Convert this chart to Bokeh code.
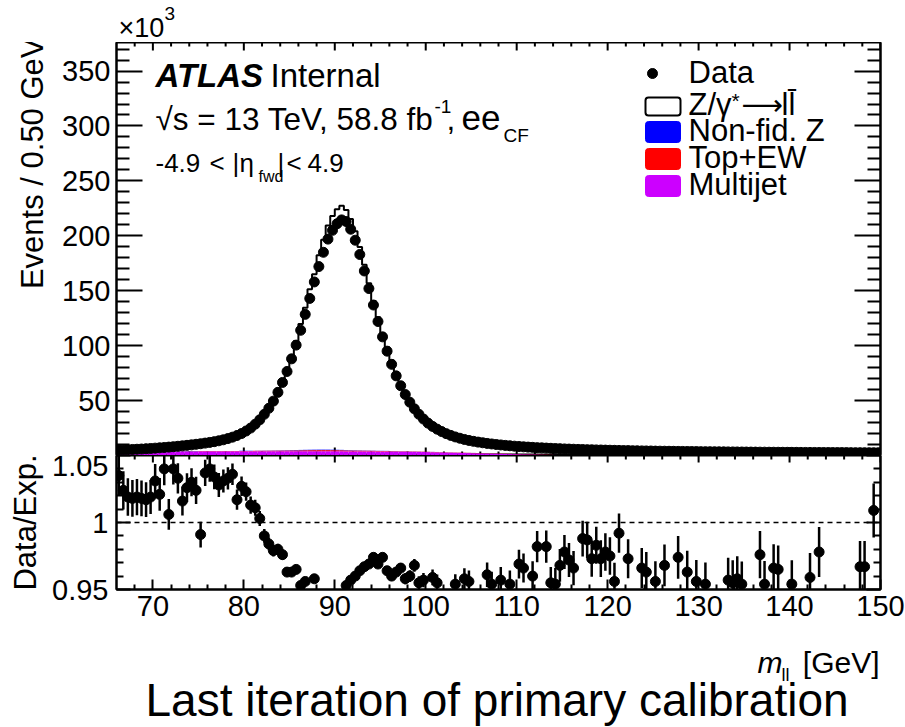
import numpy as np
from bokeh.plotting import figure
from bokeh.layouts import column
from bokeh.models import (Range1d, LinearAxis, FixedTicker, Label, Span, Title,
                          BoxAnnotation, CustomJSTickFormatter)
from bokeh.embed import file_html
from bokeh.resources import INLINE

# ---------------- data (0.5 GeV bins from 66 to 150 GeV) ----------------
M_LO, M_HI, BIN_W = 66.0, 150.0, 0.5

# Data events per bin, in units of 10^3
data_k = [
    4.9, 5.1, 5.3, 5.5, 5.7, 5.9, 6.15, 6.4, 6.7, 7.0,
    7.3, 7.65, 8.0, 8.4, 8.8, 9.25, 9.7, 10.2, 10.7, 11.3,
    11.9, 12.6, 13.4, 14.3, 15.4, 16.7, 18.2, 20.0, 22.3, 25.0,
    28.5, 32.5, 37.5, 43.0, 49.5, 57.5, 66.5, 76.5, 88.0, 100.5,
    114.0, 128.5, 143.0, 158.0, 172.0, 185.0, 197.0,
    205.0, 211.0, 214.5, 213.0, 206.0, 196.0, 183.0, 168.0, 152.0,
    137, 122, 108, 95, 83, 72.5, 63.5, 55.5, 48.5, 42.5,
    37.5, 33.2, 29.5, 26.5, 24.0, 21.8, 19.9, 18.3, 16.9, 15.7,
    14.6, 13.7, 12.9, 12.2, 11.6, 11.0, 10.5, 10.0, 9.6, 9.2,
    8.85, 8.5, 8.2, 7.9, 7.65, 7.4, 7.15, 6.95, 6.75, 6.55,
    6.35, 6.2, 6.0, 5.85, 5.7, 5.55, 5.45, 5.3, 5.2, 5.1,
    5.0, 4.9, 4.8, 4.7, 4.6, 4.5, 4.45, 4.35, 4.3, 4.2,
    4.15, 4.1, 4.0, 3.95, 3.9, 3.85, 3.8, 3.75, 3.7, 3.65,
    3.6, 3.55, 3.5, 3.48, 3.44, 3.4, 3.36, 3.32, 3.28, 3.25,
    3.22, 3.18, 3.15, 3.12, 3.09, 3.06, 3.03, 3.0, 2.97, 2.95,
    2.92, 2.9, 2.87, 2.85, 2.82, 2.8, 2.78, 2.76, 2.74, 2.72,
    2.7, 2.68, 2.66, 2.64, 2.62, 2.6, 2.58, 2.56, 2.55, 2.53,
    2.51, 2.5,
]

# Data / Expected per bin
ratio = [
    1.035, 1.024, 1.019, 1.018, 1.019, 1.018, 1.017, 1.019, 1.031, 1.021,
    1.040, 1.006, 1.040, 1.033, 1.016, 1.026, 1.030, 1.024, 0.991, 1.037,
    1.040, 1.034, 1.028, 1.031, 1.033, 1.036, 1.017, 1.027, 1.023, 1.013,
    1.011, 1.003, 0.990, 0.984, 0.979, 0.980, 0.976, 0.963, 0.963, 0.965,
    0.953, 0.956, 0.945, 0.958, 0.944, 0.942, 0.941, 0.940, 0.941, 0.943,
    0.953, 0.957, 0.960, 0.964, 0.967, 0.969, 0.974, 0.969, 0.974, 0.964,
    0.960, 0.963, 0.966, 0.958, 0.960, 0.968, 0.955, 0.957, 0.938, 0.959,
    0.955, 0.936, 0.935, 0.937, 0.954, 0.935, 0.958, 0.956, 0.934, 0.933,
    0.936, 0.961, 0.954, 0.934, 0.957, 0.933, 0.954, 0.934, 0.969, 0.966,
    0.933, 0.960, 0.982, 0.935, 0.982, 0.955, 0.954, 0.968, 0.978, 0.972,
    0.966, 0.934, 0.988, 0.987, 0.973, 0.983, 0.973, 0.978, 0.975, 0.956,
    0.992, 0.933, 0.973, 0.932, 0.934, 0.966, 0.963, 0.932, 0.956, 0.931,
    0.968, 0.933, 0.930, 0.974, 0.932, 0.963, 0.931, 0.956, 0.932, 0.954,
    0.930, 0.931, 0.929, 0.932, 0.957, 0.955, 0.958, 0.954, 0.931, 0.930,
    0.932, 0.976, 0.954, 0.930, 0.966, 0.965, 0.931, 0.929, 0.954, 0.931,
    0.929, 0.932, 0.959, 0.930, 0.978, 0.931, 0.929, 0.928, 0.931, 0.929,
    0.932, 0.930, 0.931, 0.967, 0.967, 0.930, 1.009, 0.931,
]

# Background predictions per bin, in units of 10^3
multijet_k = [
    3.4, 3.4, 3.5, 3.5, 3.5, 3.5, 3.6, 3.6, 3.6, 3.6,
    3.6, 3.7, 3.7, 3.7, 3.7, 3.7, 3.7, 3.7, 3.8, 3.8,
    3.8, 3.8, 3.8, 3.8, 3.8, 3.8, 3.8, 3.8,
    3.8, 3.8, 3.9, 3.9, 3.9, 3.9, 3.9, 3.9, 3.9, 3.9,
    3.9, 3.9, 3.9, 3.9, 3.9, 3.9, 3.9, 3.9, 3.9, 3.9,
    3.9, 3.9, 3.8, 3.8, 3.8, 3.8, 3.8, 3.8, 3.8, 3.7,
    3.7, 3.7, 3.6, 3.6, 3.5, 3.5, 3.4, 3.4, 3.3, 3.2,
    3.1, 3.0, 2.9, 2.8, 2.7, 2.6, 2.5, 2.4, 2.3, 2.2,
    2.1, 2.0, 1.9, 1.8, 1.7, 1.6, 1.5, 1.4, 1.3, 1.2,
    1.1, 1.0, 0.9, 0.8, 0.7, 0.6, 0.5, 0.4, 0.3, 0.25,
    0.22, 0.21, 0.20, 0.19, 0.18, 0.18, 0.17, 0.17, 0.16, 0.16,
    0.16, 0.15, 0.15, 0.15, 0.14, 0.14, 0.14, 0.14, 0.13, 0.13,
    0.13, 0.13, 0.13, 0.12, 0.12, 0.12, 0.12, 0.12, 0.12, 0.11,
    0.11, 0.11, 0.11, 0.11, 0.11, 0.11, 0.10, 0.10, 0.10, 0.10,
    0.10, 0.10, 0.10, 0.10, 0.10, 0.10, 0.09, 0.09, 0.09, 0.09,
    0.09, 0.09, 0.09, 0.09, 0.09, 0.09, 0.09, 0.08, 0.08, 0.08,
    0.08, 0.08, 0.08, 0.08, 0.08, 0.08, 0.08, 0.08, 0.08, 0.08,
]

top_ew_k = [
    0.20, 0.20, 0.20, 0.21, 0.21, 0.21, 0.21, 0.22, 0.22, 0.22,
    0.22, 0.23, 0.23, 0.23, 0.24, 0.24, 0.24, 0.25, 0.25, 0.26,
    0.26, 0.27, 0.27, 0.28, 0.29, 0.30, 0.31, 0.32,
    0.33, 0.35, 0.37, 0.39, 0.42, 0.45, 0.49, 0.53, 0.58, 0.63,
    0.69, 0.75, 0.81, 0.87, 0.92, 0.96, 0.99, 1.00, 0.99, 0.96,
    0.92, 0.87, 0.81, 0.75, 0.69, 0.63, 0.57, 0.52, 0.47, 0.43,
    0.40, 0.37, 0.35, 0.33, 0.31, 0.30, 0.29, 0.28, 0.27, 0.26,
    0.26, 0.25, 0.25, 0.24, 0.24, 0.24, 0.23, 0.23, 0.23, 0.22,
    0.22, 0.22, 0.22, 0.21, 0.21, 0.21, 0.21, 0.21, 0.20, 0.20,
    0.20, 0.20, 0.20, 0.20, 0.20, 0.20, 0.20, 0.19, 0.19, 0.19,
    0.19, 0.19, 0.19, 0.19, 0.19, 0.18, 0.18, 0.18, 0.18, 0.18,
    0.18, 0.18, 0.18, 0.18, 0.17, 0.17, 0.17, 0.17, 0.17, 0.17,
    0.17, 0.17, 0.17, 0.17, 0.16, 0.16, 0.16, 0.16, 0.16, 0.16,
    0.16, 0.16, 0.16, 0.16, 0.16, 0.16, 0.16, 0.15, 0.15, 0.15,
    0.15, 0.15, 0.15, 0.15, 0.15, 0.15, 0.15, 0.15, 0.15, 0.15,
    0.15, 0.15, 0.14, 0.14, 0.14, 0.14, 0.14, 0.14, 0.14, 0.14,
    0.14, 0.14, 0.14, 0.14, 0.14, 0.14, 0.14, 0.14, 0.14, 0.14,
]

nonfid_k = [
    0.04, 0.04, 0.04, 0.04, 0.04, 0.05, 0.05, 0.05, 0.05, 0.05,
    0.05, 0.05, 0.06, 0.06, 0.06, 0.06, 0.06, 0.07, 0.07, 0.07,
    0.08, 0.08, 0.08, 0.09, 0.09, 0.10, 0.10, 0.11,
    0.12, 0.13, 0.14, 0.15, 0.17, 0.19, 0.21, 0.23, 0.26, 0.29,
    0.32, 0.35, 0.38, 0.41, 0.43, 0.45, 0.46, 0.46, 0.45, 0.43,
    0.40, 0.37, 0.34, 0.31, 0.28, 0.25, 0.22, 0.20, 0.18, 0.16,
    0.15, 0.14, 0.13, 0.12, 0.11, 0.10, 0.10, 0.09, 0.09, 0.08,
    0.08, 0.08, 0.07, 0.07, 0.07, 0.07, 0.06, 0.06, 0.06, 0.06,
    0.06, 0.05, 0.05, 0.05, 0.05, 0.05, 0.05, 0.05, 0.04, 0.04,
    0.04, 0.04, 0.04, 0.04, 0.04, 0.04, 0.04, 0.04, 0.04, 0.04,
    0.04, 0.04, 0.04, 0.04, 0.04, 0.04, 0.04, 0.04, 0.04, 0.04,
    0.04, 0.04, 0.04, 0.04, 0.04, 0.04, 0.04, 0.04, 0.04, 0.04,
    0.04, 0.04, 0.04, 0.04, 0.04, 0.04, 0.04, 0.04, 0.04, 0.04,
    0.03, 0.03, 0.03, 0.03, 0.03, 0.03, 0.03, 0.03, 0.03, 0.03,
    0.03, 0.03, 0.03, 0.03, 0.03, 0.03, 0.03, 0.03, 0.03, 0.03,
    0.03, 0.03, 0.03, 0.03, 0.03, 0.03, 0.03, 0.03, 0.03, 0.03,
    0.03, 0.03, 0.03, 0.03, 0.03, 0.03, 0.03, 0.03, 0.03, 0.03,
]

# ticks
x_major = [70, 80, 90, 100, 110, 120, 130, 140, 150]
x_minor = [68, 72, 74, 76, 78, 82, 84, 86, 88, 92, 94, 96, 98, 102, 104, 106, 108,
           112, 114, 116, 118, 122, 124, 126, 128, 132, 134, 136, 138, 142, 144, 146, 148]
y_major = [50, 100, 150, 200, 250, 300, 350]
y_minor = [10, 20, 30, 40, 60, 70, 80, 90, 110, 120, 130, 140, 160, 170, 180, 190,
           210, 220, 230, 240, 260, 270, 280, 290, 310, 320, 330, 340, 360, 370]
r_major = [0.95, 1.0, 1.05]
r_minor = [0.96, 0.97, 0.98, 0.99, 1.01, 1.02, 1.03, 1.04]

# ---------------- derived ----------------
data = np.array(data_k)
r = np.array(ratio)
edges = M_LO + BIN_W * np.arange(len(data) + 1)
centers = 0.5 * (edges[:-1] + edges[1:])
expected = data / r
mj = np.array(multijet_k)
tew = np.array(top_ew_k)
nf = np.array(nonfid_k)
b1 = mj
b2 = b1 + tew
b3 = b2 + nf
r_err = r / np.sqrt(data * 1000.0)

# ---------------- layout constants (page pixels) ----------------
FONT = "Liberation Sans"
W, H_PAGE = 905, 727
FL, FR = 116, 880                 # frame left / right
T_TOP, T_BOT = 42, 455            # top panel frame
R_BOT = 589                       # ratio frame bottom
R_AX = 48                         # room for ratio x tick labels
B_TOP = R_BOT + R_AX              # start of bottom text strip
Y_MAX = 376.0
R_LO, R_HI = 0.95, 1.05
MID = 0.35                        # baseline -> text middle, in em

def tx(px):
    return M_LO + (px - FL) * (M_HI - M_LO) / (FR - FL)

def ty(py):
    return (T_BOT - py) * Y_MAX / (T_BOT - T_TOP)

K1 = Y_MAX / (T_BOT - T_TOP)          # data units per pixel, top panel
K2 = (R_HI - R_LO) / (R_BOT - T_BOT)  # data units per pixel, ratio panel


def style_axis(ax, ticker, major_len, minor_len, labels=False, size="29px", standoff=6):
    ax.ticker = ticker
    ax.major_tick_in = major_len
    ax.major_tick_out = 0
    ax.minor_tick_in = minor_len
    ax.minor_tick_out = 0
    ax.axis_line_color = "black"
    ax.axis_line_width = 2
    ax.major_tick_line_color = "black"
    ax.minor_tick_line_color = "black"
    ax.major_tick_line_width = 2
    ax.minor_tick_line_width = 2
    if labels:
        ax.major_label_text_font = FONT
        ax.major_label_text_font_size = size
        ax.major_label_text_color = "black"
        ax.major_label_standoff = standoff
    else:
        ax.major_label_text_font_size = "0px"
        ax.major_label_standoff = 0


def add_label(p, x, y, text, size, style="normal", align="left", font=FONT):
    p.add_layout(Label(x=x, y=y, text=text, text_font=font,
                       text_font_size="%gpx" % size, text_font_style=style,
                       text_color="black", text_align=align,
                       text_baseline="middle"))


def lab1(px, py, text, size, **kw):
    # py is the page-pixel baseline of the text
    add_label(p1, tx(px), ty(py - MID * size), text, size, **kw)


x_range = Range1d(M_LO, M_HI)


def strip(height):
    p = figure(width=W, height=height, x_range=x_range,
               y_range=Range1d(0, height), x_axis_location=None, y_axis_location=None,
               min_border_left=FL, min_border_right=W - FR, min_border_top=0,
               min_border_bottom=0, toolbar_location=None, output_backend="svg")
    p.outline_line_color = None
    p.grid.visible = False
    p.background_fill_color = "white"
    p.border_fill_color = "white"
    return p

# ---------------- strip above the top panel ----------------
p0 = strip(T_TOP)
add_label(p0, tx(118), T_TOP - (37 - MID * 27), "×10", 27)
add_label(p0, tx(164), T_TOP - (20 - MID * 19), "3", 19)

# ---------------- top panel ----------------
p1 = figure(width=W, height=T_BOT - T_TOP, x_range=x_range,
            y_range=Range1d(0, Y_MAX), output_backend="svg",
            toolbar_location=None, x_axis_location=None,
            min_border_left=FL, min_border_right=W - FR,
            min_border_top=0, min_border_bottom=0)
p1.grid.visible = False
p1.outline_line_color = "black"
p1.outline_line_width = 2
p1.background_fill_color = "white"
p1.border_fill_color = "white"

style_axis(p1.yaxis[0], FixedTicker(ticks=y_major, minor_ticks=y_minor), 26, 13,
           labels=True, size="29px", standoff=6)
ax_r = LinearAxis()
style_axis(ax_r, FixedTicker(ticks=y_major, minor_ticks=y_minor), 26, 13)
p1.add_layout(ax_r, "right")
p1.add_layout(Title(text="Events / 0.50 GeV", align="right", text_font=FONT,
                    text_font_size="31px", text_font_style="normal",
                    text_color="black", standoff=20, offset=-5), "left")

# x ticks on the top and bottom edges of the top panel
xm = np.array(x_major, dtype=float)
xn = np.array(x_minor, dtype=float)
p1.segment(x0=xm, y0=Y_MAX, x1=xm, y1=Y_MAX - 8 * K1, line_color="black", line_width=2)
p1.segment(x0=xn, y0=Y_MAX, x1=xn, y1=Y_MAX - 4 * K1, line_color="black", line_width=2)
p1.segment(x0=xm, y0=0, x1=xm, y1=8 * K1, line_color="black", line_width=2)
p1.segment(x0=xn, y0=0, x1=xn, y1=4 * K1, line_color="black", line_width=2)

# stacked backgrounds
p1.quad(left=edges[:-1], right=edges[1:], bottom=0, top=b1,
        fill_color="#cc00ff", line_color=None)
p1.quad(left=edges[:-1], right=edges[1:], bottom=b1, top=b2,
        fill_color="#ff0000", line_color=None)
p1.quad(left=edges[:-1], right=edges[1:], bottom=b2, top=b3,
        fill_color="#0000ff", line_color=None)
# Z/gamma* -> ll on top of the stack (outline)
p1.step(x=edges, y=np.append(expected, expected[-1]), mode="after",
        line_color="black", line_width=2)
# data
p1.scatter(centers, data, size=10, color="black")

# texts (positions are page-pixel baselines)
lab1(155, 87, "ATLAS", 33, style="bold italic")
lab1(270, 87, "Internal", 33)
lab1(155, 130, "√s = 13 TeV, 58.8 fb", 31.5)
lab1(434, 113, "-1", 19)
lab1(446, 130, ",", 31.5)
lab1(461, 130, "ee", 35)
lab1(503, 142, "CF", 19)
lab1(155, 172, "-4.9", 26)
lab1(209, 172, "<", 26)
lab1(232, 172, "|", 26)
lab1(239, 172, "η", 26)
lab1(258, 182, "fwd", 16)
lab1(277, 172, "|", 26)
lab1(286, 172, "<", 26)
lab1(307, 172, "4.9", 26)

# legend
p1.scatter([tx(652)], [ty(73)], size=10, color="black")
lab1(688, 83, "Data", 31)
p1.add_layout(BoxAnnotation(left=tx(645), right=tx(680), top=ty(97), bottom=ty(115),
                            fill_color="white", fill_alpha=1, line_color="black",
                            line_alpha=1, line_width=2, border_radius=3))
lab1(688, 115, "Z/γ", 31)
lab1(731, 107, "*", 21)
lab1(741, 115, "⟶", 29, font="DejaVu Sans")
lab1(781, 115, "ll̄", 31)
for (top_px, col, txt) in [(121, "#0000ff", "Non-fid. Z"),
                           (148, "#ff0000", "Top+EW"),
                           (175, "#cc00ff", "Multijet")]:
    p1.add_layout(BoxAnnotation(left=tx(645), right=tx(680), top=ty(top_px),
                                bottom=ty(top_px + 21), fill_color=col, fill_alpha=1,
                                line_color=col, line_alpha=1, line_width=1,
                                border_radius=3))
    lab1(688, top_px + 20, txt, 31)

# ---------------- ratio panel ----------------
p2 = figure(width=W, height=B_TOP - T_BOT, x_range=x_range,
            y_range=Range1d(R_LO, R_HI), output_backend="svg",
            toolbar_location=None, min_border_left=FL,
            min_border_right=W - FR, min_border_top=0, min_border_bottom=R_AX)
p2.grid.visible = False
p2.outline_line_color = "black"
p2.outline_line_width = 2
p2.background_fill_color = "white"
p2.border_fill_color = "white"

style_axis(p2.xaxis[0], FixedTicker(ticks=x_major, minor_ticks=x_minor), 10, 5,
           labels=True, size="29px", standoff=6)
style_axis(p2.yaxis[0], FixedTicker(ticks=r_major, minor_ticks=r_minor), 14, 7,
           labels=True, size="29px", standoff=8)
p2.yaxis[0].formatter = CustomJSTickFormatter(code="return String(Math.round(tick*100)/100);")
p2.yaxis[0].axis_label = "Data/Exp."
p2.yaxis[0].axis_label_text_font = FONT
p2.yaxis[0].axis_label_text_font_size = "31px"
p2.yaxis[0].axis_label_text_font_style = "normal"
p2.yaxis[0].axis_label_text_color = "black"
p2.yaxis[0].axis_label_standoff = 6
ax_r2 = LinearAxis()
style_axis(ax_r2, FixedTicker(ticks=r_major, minor_ticks=r_minor), 14, 7)
p2.add_layout(ax_r2, "right")
p2.segment(x0=xm, y0=R_HI, x1=xm, y1=R_HI - 7 * K2, line_color="black", line_width=2)
p2.segment(x0=xn, y0=R_HI, x1=xn, y1=R_HI - 4 * K2, line_color="black", line_width=2)

p2.add_layout(Span(location=1.0, dimension="width", line_color="black",
                   line_width=1.5, line_dash="5 4"))
p2.segment(x0=centers, y0=r - r_err, x1=centers, y1=r + r_err,
           line_color="black", line_width=2.5)
p2.scatter(centers, r, size=10, color="black")

# ---------------- bottom text strip ----------------
H3 = H_PAGE - B_TOP

def lab3(px, py, text, size, **kw):
    add_label(p3, tx(px), H_PAGE - (py - MID * size), text, size, **kw)

p3 = strip(H3)
lab3(757, 672, "m", 30, style="italic")
lab3(781, 681, "ll", 18)
lab3(879, 672, "[GeV]", 30, align="right")
lab3(145, 716, "Last iteration of primary calibration", 46)

layout = column(p0, p1, p2, p3, spacing=0)
open("out.html", "w").write(file_html(layout, INLINE))
